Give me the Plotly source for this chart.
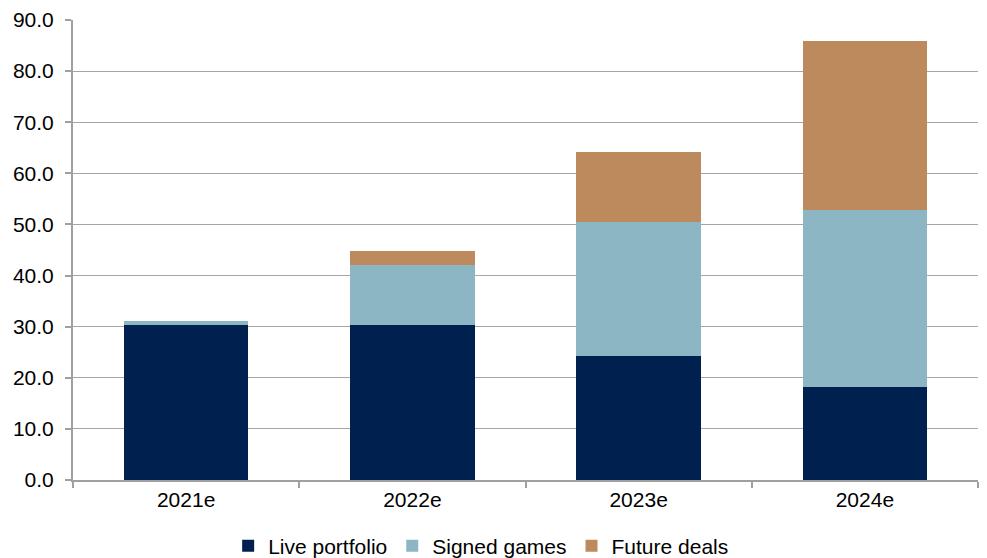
import plotly.graph_objects as go

categories = ["2021e", "2022e", "2023e", "2024e"]
live_portfolio = [30.3, 30.4, 24.3, 18.1]
signed_games = [0.8, 11.7, 26.1, 34.7]
future_deals = [0.0, 2.7, 13.7, 33.1]
y_ticks = [0, 10, 20, 30, 40, 50, 60, 70, 80, 90]

fig = go.Figure()
series = [
    ("Live portfolio", live_portfolio, "#00214F"),
    ("Signed games", signed_games, "#8DB6C5"),
    ("Future deals", future_deals, "#BD8A5E"),
]
for name, vals, col in series:
    fig.add_trace(go.Bar(x=categories, y=vals, name=name,
                         marker=dict(color=col, line=dict(width=0))))

font = "Liberation Sans, Arial, sans-serif"
# page body has an 8px default margin, so the figure is sized/margined to compensate
fig.update_layout(
    barmode="stack",
    bargap=0.45,
    width=979, height=550,
    margin=dict(l=65, r=9, t=12, b=78, autoexpand=False),
    plot_bgcolor="white", paper_bgcolor="white",
    font=dict(family=font, size=21, color="#000000"),
    showlegend=True,
    legend=dict(orientation="h", x=0.451, xanchor="center", y=-0.1435, yanchor="middle",
                font=dict(size=21), traceorder="normal", itemwidth=30),
    xaxis=dict(showline=True, linecolor="#A0A0A0", linewidth=2, automargin=False,
               ticks="outside", tickson="boundaries", ticklen=6, tickcolor="#A0A0A0",
               tickwidth=2, tickfont=dict(size=21)),
    yaxis=dict(range=[0, 90], tickvals=y_ticks, ticktext=[f"{v:.1f}" for v in y_ticks],
               showline=True, linecolor="#A0A0A0", linewidth=2, automargin=False,
               ticks="outside", ticklen=6, tickcolor="#A0A0A0", tickwidth=2,
               ticklabelstandoff=7,
               showgrid=True, gridcolor="#A6A6A6", gridwidth=1,
               zeroline=False, tickfont=dict(size=21)),
)

fig.write_html("out.html")
